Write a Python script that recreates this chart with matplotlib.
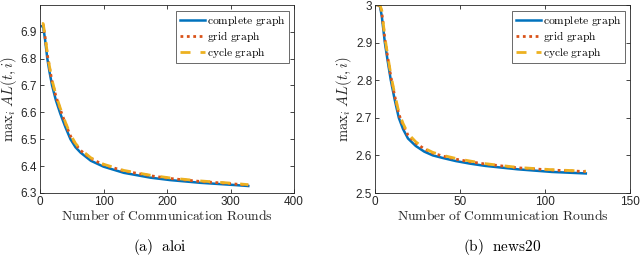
import matplotlib
matplotlib.use('Agg')
import matplotlib.pyplot as plt
from matplotlib.ticker import MultipleLocator

plt.rcParams['mathtext.fontset'] = 'cm'
plt.rcParams['font.family'] = 'Liberation Sans'

# (a) aloi
ALOI_X = [3, 5, 8, 11.5, 15, 19, 25, 32, 40, 48, 56, 64, 80, 100, 132, 174, 205, 252, 304, 328]
ALOI_COMPLETE = [6.92, 6.92, 6.87, 6.80, 6.75, 6.70, 6.645, 6.595, 6.545, 6.50, 6.47, 6.45, 6.42,
                 6.398, 6.375, 6.357, 6.348, 6.338, 6.33, 6.326]
ALOI_GRID = [6.925, 6.925, 6.88, 6.815, 6.765, 6.715, 6.66, 6.61, 6.558, 6.512, 6.48, 6.458, 6.428,
             6.405, 6.382, 6.364, 6.354, 6.343, 6.334, 6.329]
ALOI_CYCLE = [6.93, 6.93, 6.885, 6.82, 6.77, 6.72, 6.665, 6.615, 6.563, 6.517, 6.484, 6.462, 6.431,
              6.407, 6.384, 6.366, 6.356, 6.345, 6.336, 6.331]
ALOI_YTICKS = [6.3, 6.4, 6.5, 6.6, 6.7, 6.8, 6.9]

# (b) news20
NEWS_X = [1, 2, 3, 4, 5.8, 7.5, 9.3, 11.5, 14, 16.5, 19.4, 24, 29, 34, 40, 47.5, 56, 65, 84, 104, 124]
NEWS_COMPLETE = [3.0, 3.0, 2.995, 2.97, 2.9, 2.85, 2.8, 2.75, 2.70, 2.67, 2.645, 2.625, 2.61, 2.60,
                 2.593, 2.585, 2.578, 2.572, 2.563, 2.556, 2.552]
NEWS_GRID = [3.0, 3.0, 2.998, 2.98, 2.91, 2.86, 2.81, 2.76, 2.71, 2.68, 2.654, 2.633, 2.617, 2.606,
             2.598, 2.59, 2.583, 2.577, 2.567, 2.561, 2.557]
NEWS_CYCLE = [3.0, 3.0, 2.999, 2.985, 2.915, 2.865, 2.815, 2.765, 2.715, 2.685, 2.658, 2.636, 2.619,
              2.608, 2.6, 2.592, 2.585, 2.578, 2.568, 2.562, 2.558]
NEWS_YTICKS = [2.5, 2.6, 2.7, 2.8, 2.9, 3.0]

LABELS = [r'$\mathrm{complete\ graph}$', r'$\mathrm{grid\ graph}$', r'$\mathrm{cycle\ graph}$']
COLORS = ['#0072BD', '#D95319', '#EDB120']
STYLES = ['-', (0, (1, 1.3)), (0, (3.6, 3.6))]
WIDTHS = [1.8, 2.0, 2.0]

PANELS = [
    dict(x=ALOI_X, ys=[ALOI_COMPLETE, ALOI_GRID, ALOI_CYCLE], xlim=(0, 400), ylim=(6.3, 6.999),
         xstep=100, yticks=ALOI_YTICKS, caption=r'$\mathrm{(a)\ \ aloi}$', cx=160),
    dict(x=NEWS_X, ys=[NEWS_COMPLETE, NEWS_GRID, NEWS_CYCLE], xlim=(0, 150), ylim=(2.5, 3.0),
         xstep=50, yticks=NEWS_YTICKS, caption=r'$\mathrm{(b)\ \ news20}$', cx=502),
]


def main():
    fig = plt.figure(figsize=(6.4, 2.57), dpi=100)
    rects = [[40 / 640, 1 - 193 / 257, 254 / 640, 188 / 257],
             [375 / 640, 1 - 193 / 257, 255 / 640, 188 / 257]]
    for rect, p in zip(rects, PANELS):
        ax = fig.add_axes(rect)
        for y, lab, c, ls, lw in zip(p['ys'], LABELS, COLORS, STYLES, WIDTHS):
            ax.plot(p['x'], y, color=c, linestyle=ls, lw=lw, label=lab)
        ax.set_xlim(p['xlim'])
        ax.set_ylim(p['ylim'])
        ax.xaxis.set_major_locator(MultipleLocator(p['xstep']))
        ax.set_yticks(p['yticks'])
        ax.yaxis.set_major_formatter(plt.FuncFormatter(lambda v, _: ('%g' % round(v, 2))))
        ax.tick_params(direction='in', length=3, width=0.6, labelsize=8.5, colors='#262626',
                       top=True, right=True, pad=2)
        for s in ax.spines.values():
            s.set_linewidth(0.6)
            s.set_color('#262626')
        ax.set_xlabel(r'$\mathrm{Number\ of\ Communication\ Rounds}$', fontsize=9.8,
                      color='#262626', labelpad=1)
        ax.set_ylabel(r'$\mathrm{max}_i\;AL(t,i)$', fontsize=10.5, color='#262626',
                      labelpad=1)
        leg = ax.legend(loc='upper right', fontsize=8.3, handlelength=2.2, borderpad=0.3,
                        labelspacing=0.12, handletextpad=0.15, fancybox=False,
                        borderaxespad=0, bbox_to_anchor=(0.98, 0.97))
        leg.get_frame().set_edgecolor('#262626')
        leg.get_frame().set_linewidth(0.6)
        fig.text(p['cx'] / 640, 1 - 247 / 257, p['caption'], ha='center', va='center',
                 fontsize=11)
    fig.savefig('out.png', dpi=100)
    plt.close(fig)


if __name__ == '__main__':
    main()
